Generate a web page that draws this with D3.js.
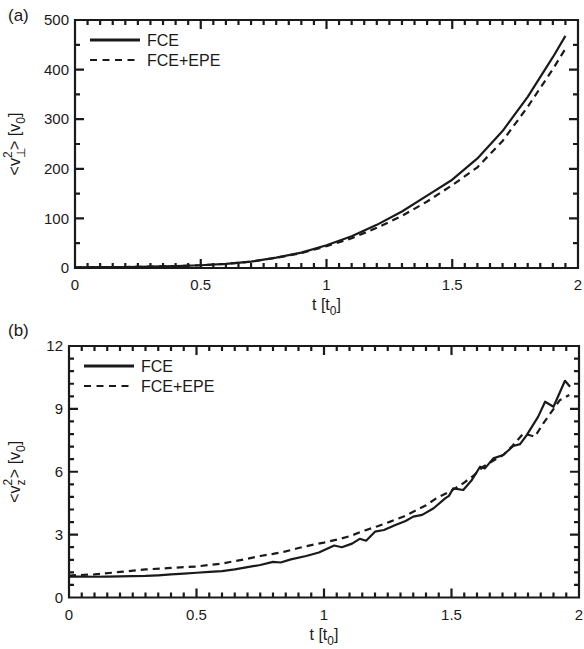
<!DOCTYPE html>
<html lang="en">
<head>
    <meta charset="UTF-8">
    <title>FCE vs FCE+EPE</title>
    <script src="https://cdnjs.cloudflare.com/ajax/libs/d3/7.8.5/d3.min.js"></script>
    <style>
        body { margin: 0; background: #fff; }
        svg { display: block; font-family: "Liberation Sans", Arial, Helvetica, sans-serif; }
    </style>
</head>
<body>
<div id="chart"></div>
<script>
    // panel (a): <v_perp^2>
    const tA      = [0, 0.1, 0.2, 0.3, 0.4, 0.5, 0.6, 0.7, 0.8, 0.9, 1.0, 1.1, 1.2, 1.3, 1.4, 1.5, 1.6, 1.7, 1.8, 1.9, 1.95];
    const fceA    = [1.5, 1.6, 2, 2.8, 3.8, 5.5, 8.5, 13, 21, 31, 46, 64, 87, 114, 146, 178, 221, 276, 345, 425, 468];
    const fceEpeA = [1.5, 1.6, 2, 2.8, 3.8, 5.5, 8.4, 12.8, 20.5, 30, 44, 60, 81, 105, 134, 167, 203, 256, 325, 401, 442];

    // panel (b): <v_z^2>
    const tB_fce = [0, 0.05, 0.1, 0.15, 0.2, 0.25, 0.3, 0.35, 0.4, 0.45, 0.5, 0.55, 0.6, 0.65, 0.7, 0.75, 0.8, 0.83, 0.87, 0.93, 0.98,
                    1.04, 1.07, 1.11, 1.14, 1.165, 1.2, 1.235, 1.28, 1.32, 1.35, 1.385, 1.43, 1.475, 1.49, 1.507, 1.546, 1.58,
                    1.612, 1.631, 1.664, 1.703, 1.742, 1.769, 1.795, 1.84, 1.867, 1.9, 1.945, 1.965];
    const fceB   = [1.0, 1.0, 0.99, 1.0, 1.01, 1.02, 1.03, 1.06, 1.1, 1.14, 1.18, 1.22, 1.26, 1.34, 1.45, 1.55, 1.7, 1.67, 1.82, 1.98, 2.15,
                    2.48, 2.4, 2.57, 2.8, 2.71, 3.14, 3.22, 3.46, 3.65, 3.86, 3.94, 4.26, 4.73, 4.85, 5.21, 5.13, 5.61,
                    6.24, 6.16, 6.64, 6.8, 7.23, 7.32, 7.75, 8.63, 9.34, 9.1, 10.34, 10.06];
    const tB_epe    = [0, 0.1, 0.2, 0.3, 0.4, 0.5, 0.6, 0.7, 0.75, 0.8, 0.85, 0.9, 0.95, 1.0, 1.05, 1.1, 1.16, 1.21, 1.26, 1.31,
                       1.36, 1.4, 1.44, 1.5, 1.546, 1.59, 1.624, 1.66, 1.703, 1.74, 1.782, 1.827, 1.86, 1.925, 1.962];
    const fceEpeB   = [1.05, 1.1, 1.22, 1.34, 1.41, 1.48, 1.62, 1.85, 1.98, 2.08, 2.2, 2.36, 2.5, 2.62, 2.76, 2.92, 3.2, 3.4, 3.62, 3.85,
                       4.15, 4.4, 4.73, 5.1, 5.45, 5.85, 6.24, 6.5, 6.8, 7.25, 7.83, 7.67, 8.31, 9.42, 9.66];

    const xTicks = [0, 0.5, 1, 1.5, 2];
    const yTicksA = [0, 100, 200, 300, 400, 500];
    const yTicksB = [0, 3, 6, 9, 12];
    const legendNames = ["FCE", "FCE+EPE"];

    const ink = "#1a1a1a";
    const svg = d3.select("#chart").append("svg")
        .attr("width", 584)
        .attr("height", 649);

    function zip(ts, vs) { return ts.map((t, i) => ({t: t, v: vs[i]})); }

    function drawPanel(opt) {
        const x = d3.scaleLinear().domain([0, 2]).range([opt.left, opt.right]);
        const y = d3.scaleLinear().domain(opt.yDomain).range([opt.bottom, opt.top]);

        const xMinor = d3.range(0, 41).map(i => i * 0.05).filter(v => Math.abs(v * 2 - Math.round(v * 2)) > 1e-6);
        const yMinor = d3.range(opt.yDomain[0], opt.yDomain[1] + 1e-9, opt.yMinorStep)
            .filter(v => !opt.yTicks.some(t => Math.abs(t - v) < 1e-6));

        const g = svg.append("g");

        // frame and inward ticks on all four sides, as one path
        const p = d3.path();
        p.moveTo(opt.left, opt.top);
        p.lineTo(opt.right, opt.top);
        p.lineTo(opt.right, opt.bottom);
        p.lineTo(opt.left, opt.bottom);
        p.closePath();
        [[xMinor, 5], [xTicks, 9]].forEach(([vals, len]) => vals.forEach(d => {
            p.moveTo(x(d), opt.bottom); p.lineTo(x(d), opt.bottom - len);
            p.moveTo(x(d), opt.top);    p.lineTo(x(d), opt.top + len);
        }));
        [[yMinor, 5], [opt.yTicks, 9]].forEach(([vals, len]) => vals.forEach(d => {
            p.moveTo(opt.left, y(d));  p.lineTo(opt.left + len, y(d));
            p.moveTo(opt.right, y(d)); p.lineTo(opt.right - len, y(d));
        }));
        g.append("path")
            .attr("d", p.toString())
            .attr("fill", "none").attr("stroke", ink).attr("stroke-width", 2.2);

        // tick labels
        g.append("g").selectAll("text").data(xTicks).join("text")
            .attr("x", d => x(d)).attr("y", opt.bottom + 17).attr("dy", "0.35em")
            .attr("text-anchor", "middle").attr("font-size", 15).attr("fill", ink)
            .text(d => d3.format("")(d));
        g.append("g").selectAll("text").data(opt.yTicks).join("text")
            .attr("x", opt.left - 6).attr("y", d => y(d)).attr("dy", "0.35em")
            .attr("text-anchor", "end").attr("font-size", 15).attr("fill", ink)
            .text(d => d3.format("")(d));

        const line = d3.line().x(d => x(d.t)).y(d => y(d.v));

        g.append("path").datum(zip(opt.tSolid, opt.solid))
            .attr("fill", "none").attr("stroke", ink).attr("stroke-width", 2.2)
            .attr("stroke-linejoin", "round").attr("d", line);
        g.append("path").datum(zip(opt.tDash, opt.dash))
            .attr("fill", "none").attr("stroke", ink).attr("stroke-width", 2.2)
            .attr("stroke-dasharray", "7,5").attr("d", line);

        // legend
        const lx = opt.left + 15, ly = opt.top + 20;
        legendNames.forEach((name, i) => {
            g.append("line")
                .attr("x1", lx).attr("x2", lx + 50)
                .attr("y1", ly + i * 20).attr("y2", ly + i * 20)
                .attr("stroke", ink).attr("stroke-width", i === 0 ? 3 : 2.2)
                .attr("stroke-dasharray", i === 0 ? null : "7,5.5");
            g.append("text")
                .attr("x", lx + 57).attr("y", ly + i * 20)
                .attr("dy", "0.36em")
                .attr("font-size", 16).attr("fill", ink)
                .text(name);
        });

        // panel tag
        g.append("text").attr("x", 8).attr("y", opt.tagY)
            .attr("font-size", 17).attr("fill", ink).text(opt.tag);

        // x label: t [t0]
        const xl = g.append("text")
            .attr("x", (opt.left + opt.right) / 2).attr("y", opt.bottom + 42)
            .attr("text-anchor", "middle").attr("font-size", 16).attr("fill", ink);
        xl.append("tspan").text("t [t");
        xl.append("tspan").attr("font-size", 12).attr("dy", 5).text("0");
        xl.append("tspan").attr("dy", -5).text("]");

        // y label: <v^2_sub> [v0], rotated
        const yl = g.append("g")
            .attr("transform", `translate(20,${(opt.top + opt.bottom) / 2}) rotate(-90)`);
        const parts = [];
        let cx = 0;
        function piece(txt, size, dy) {
            const el = yl.append("text").attr("x", cx).attr("y", dy)
                .attr("font-size", size).attr("fill", ink).text(txt);
            parts.push(el);
            return el.node().getComputedTextLength();
        }
        cx += piece("<v", 16, 0);
        const w2 = piece("2", 12, -8);
        const wS = piece(opt.sub, 12, 5);
        cx += Math.max(w2, wS * 0.75) + 0.5;
        cx += piece(">", 16, 0);
        cx += 4.5;
        cx += piece("[v", 16, 0);
        cx += piece("0", 12, 5);
        cx += piece("]", 16, 0);
        parts.forEach(el => el.attr("x", +el.attr("x") - cx / 2));
    }

    drawPanel({
        tag: "(a)", tagY: 21, left: 75, right: 578, top: 20, bottom: 268,
        yDomain: [0, 500], yTicks: yTicksA, yMinorStep: 50, sub: "\u22A5",
        tSolid: tA, solid: fceA, tDash: tA, dash: fceEpeA
    });

    drawPanel({
        tag: "(b)", tagY: 336, left: 69, right: 579, top: 346, bottom: 597.5,
        yDomain: [0, 12], yTicks: yTicksB, yMinorStep: 0.6, sub: "z",
        tSolid: tB_fce, solid: fceB, tDash: tB_epe, dash: fceEpeB
    });
</script>
</body>
</html>
